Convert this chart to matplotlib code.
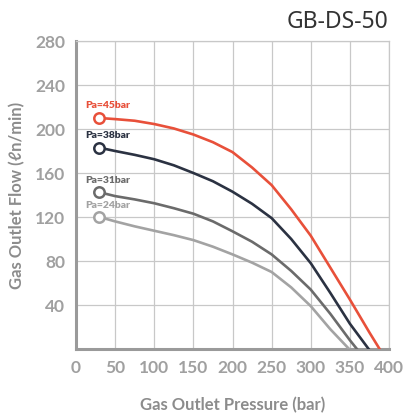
import matplotlib
matplotlib.use("Agg")
import matplotlib.pyplot as plt

# Gas outlet pressure (bar) vs gas outlet flow (ln/min)
p45 = [30, 50, 75, 100, 125, 150, 175, 200, 225, 250, 275, 300, 325, 350, 375, 388]
f45 = [210, 209, 207.5, 204.5, 200.5, 195, 188, 179, 165, 149, 127, 103, 74, 45, 15, 0]

p38 = [30, 50, 75, 100, 125, 150, 175, 200, 225, 250, 275, 300, 325, 350, 374]
f38 = [183, 180, 176.5, 172.5, 167, 160, 152.5, 143, 132, 119, 100, 78, 51, 23, 0]

p31 = [30, 50, 75, 100, 125, 150, 175, 200, 225, 250, 275, 300, 325, 350, 359]
f31 = [142.5, 139, 136, 132.5, 128, 123, 116, 107, 97.5, 86, 71, 54, 32, 8, 0]

p24 = [30, 50, 75, 100, 125, 150, 175, 200, 225, 250, 275, 300, 325, 349]
f24 = [120, 116, 111.5, 107.5, 103.5, 99, 93, 86, 78.5, 70, 56, 39, 18, 0]

labels = ["Pa=45bar", "Pa=38bar", "Pa=31bar", "Pa=24bar"]
colors = ["#E8503A", "#2B3242", "#6B6B6B", "#A3A3A3"]

x_ticks = [0, 50, 100, 150, 200, 250, 300, 350, 400]
y_ticks = [40, 80, 120, 160, 200, 240, 280]

fonts = ["Lato", "DejaVu Sans"]

fig = plt.figure(figsize=(4.05, 4.19), dpi=100)
ax = fig.add_axes([76 / 405, 70 / 419, 313 / 405, 308 / 419])

series = [(p45, f45), (p38, f38), (p31, f31), (p24, f24)]
for (px, fy), lab, col in zip(series, labels, colors):
    ax.plot(px, fy, color=col, lw=1.9, solid_joinstyle="round", zorder=3)
    ax.plot(px[0], fy[0], "o", ms=7.5, mfc="white", mec=col, mew=1.8, zorder=4)
    ax.annotate(lab, (px[0], fy[0]), xytext=(-14, 12), textcoords="offset pixels",
                ha="left", va="center", color=col, fontsize=7.5, fontweight="heavy",
                family=fonts)

ax.set_xlim(0, 400)
ax.set_ylim(0, 280)
ax.set_xticks(x_ticks)
ax.set_yticks(y_ticks)
ax.grid(True, color="#C8C8C8", lw=0.9)
ax.set_axisbelow(True)
ax.tick_params(length=0, labelsize=12.5, labelcolor="#A0A0A0", pad=8)
for t in ax.get_xticklabels() + ax.get_yticklabels():
    t.set_family(fonts)
    t.set_fontweight("bold")

for side in ["left", "bottom"]:
    ax.spines[side].set_color("#9A9A9A")
    ax.spines[side].set_linewidth(2.2)
for side in ["top", "right"]:
    ax.spines[side].set_color("#C8C8C8")
    ax.spines[side].set_linewidth(0.9)

ax.set_xlabel("Gas Outlet Pressure (bar)", fontsize=12, fontweight="bold",
              color="#8C8C8C", family=fonts, labelpad=15)
ax.set_ylabel("Gas Outlet Flow (\u2113n/min)", fontsize=12, fontweight="bold",
              color="#8C8C8C", family=fonts, labelpad=7)

fig.text(388 / 405, 1 - 28.3 / 419, "GB-DS-50", ha="right", va="baseline",
         fontsize=16.5, color="#333333", family=["Noto Sans", "DejaVu Sans"])

fig.savefig("out.png", dpi=100)
